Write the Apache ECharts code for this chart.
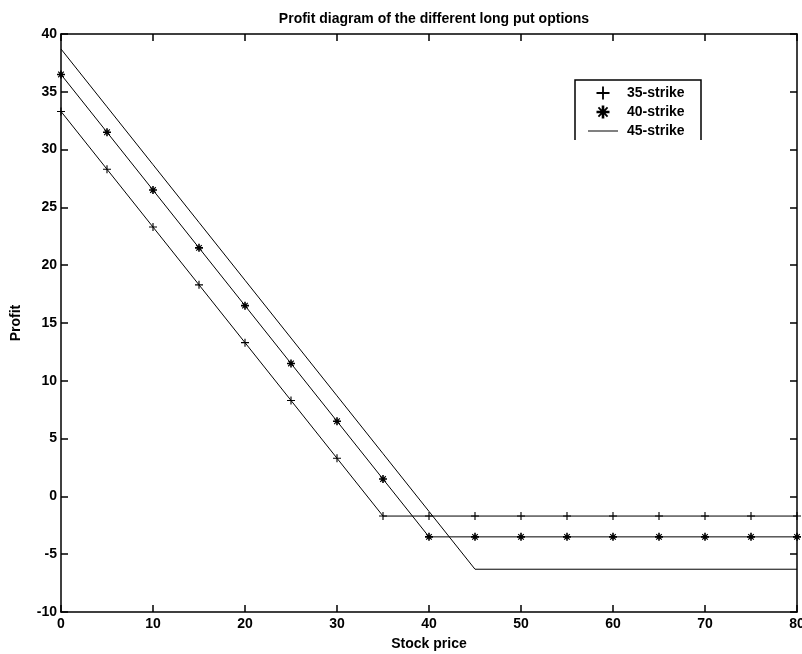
<!DOCTYPE html>
<html lang="en">
<head>
    <meta charset="UTF-8">
    <title>Profit diagram</title>
    <script src="https://cdn.jsdelivr.net/npm/echarts@6/dist/echarts.min.js"></script>
    <style>
        html, body { margin: 0; padding: 0; background: #fff; }
        #chart { width: 802px; height: 654px; }
    </style>
</head>
<body>
    <div id="chart"></div>
    <script>
        // data
        const stockPrice = [0, 5, 10, 15, 20, 25, 30, 35, 40, 45, 50, 55, 60, 65, 70, 75, 80];
        const strike35 = [33.3, 28.3, 23.3, 18.3, 13.3, 8.3, 3.3, -1.7, -1.7, -1.7, -1.7, -1.7, -1.7, -1.7, -1.7, -1.7, -1.7];
        const strike40 = [36.5, 31.5, 26.5, 21.5, 16.5, 11.5, 6.5, 1.5, -3.5, -3.5, -3.5, -3.5, -3.5, -3.5, -3.5, -3.5, -3.5];
        const strike45 = [38.7, 33.7, 28.7, 23.7, 18.7, 13.7, 8.7, 3.7, -1.3, -6.3, -6.3, -6.3, -6.3, -6.3, -6.3, -6.3, -6.3];
        const seriesNames = ['35-strike', '40-strike', '45-strike'];

        const font = 'Liberation Sans, Arial, sans-serif';
        const plusPath = 'path://M4.3,0h1.4v4.3h4.3v1.4h-4.3v4.3h-1.4v-4.3h-4.3v-1.4h4.3z';
        const starPath = 'path://M4,0h2v3l2,-2l1,1l-2,2h3v2h-3l2,2l-1,1l-2,-2v3h-2v-3l-2,2l-1,-1l2,-2h-3v-2h3l-2,-2l1,-1l2,2z';

        function pairs(ys) {
            return stockPrice.map((x, i) => [x, ys[i]]);
        }

        let chart = echarts.init(document.getElementById('chart'), null, { renderer: 'canvas' });

        let axisCommon = {
            type: 'value',
            axisLine: { show: true, onZero: false, lineStyle: { color: '#000', width: 1.5 } },
            axisTick: { show: true, inside: true, length: 7, lineStyle: { color: '#000', width: 1.5 } },
            splitLine: { show: false },
            axisLabel: { color: '#000', fontFamily: font, fontSize: 14, fontWeight: 'bold' }
        };
        let nameStyle = { color: '#000', fontFamily: font, fontSize: 14, fontWeight: 'bold' };

        let option = {
            backgroundColor: '#fff',
            animation: false,
            title: {
                text: 'Profit diagram of the different long put options',
                left: 429,
                textAlign: 'center',
                top: 7,
                textStyle: { color: '#000', fontFamily: font, fontSize: 14, fontWeight: 'bold' }
            },
            grid: { left: 61, right: 5, top: 34, bottom: 42, outerBoundsMode: 'none' },
            legend: {
                left: 583,
                top: 81,
                orient: 'vertical',
                itemGap: 5,
                itemWidth: 30,
                itemHeight: 13,
                textStyle: { color: '#000', fontFamily: font, fontSize: 14, fontWeight: 'bold', padding: [0, 0, 0, 4] },
                data: [
                    { name: seriesNames[0], icon: plusPath },
                    { name: seriesNames[1], icon: starPath },
                    { name: seriesNames[2], icon: 'path://M0,5h30v1h-30z' }
                ]
            },
            graphic: [{
                type: 'polyline',
                shape: { points: [[575, 140], [575, 80], [701, 80], [701, 140]] },
                style: { stroke: '#000', lineWidth: 1.5, fill: null }
            }],
            xAxis: [
                Object.assign({}, axisCommon, {
                    min: 0, max: 80, interval: 10,
                    axisLabel: Object.assign({}, axisCommon.axisLabel, { margin: 5 }),
                    name: 'Stock price',
                    nameLocation: 'middle',
                    nameGap: 25,
                    nameTextStyle: nameStyle
                }),
                Object.assign({}, axisCommon, {
                    position: 'top', min: 0, max: 80, interval: 10,
                    axisLabel: { show: false }
                })
            ],
            yAxis: [
                Object.assign({}, axisCommon, {
                    min: -10, max: 40, interval: 5,
                    axisLabel: Object.assign({}, axisCommon.axisLabel, { margin: 4 }),
                    name: 'Profit',
                    nameLocation: 'middle',
                    nameGap: 38,
                    nameTextStyle: nameStyle
                }),
                Object.assign({}, axisCommon, {
                    position: 'right', min: -10, max: 40, interval: 5,
                    axisLabel: { show: false }
                })
            ],
            series: [
                {
                    name: seriesNames[0],
                    type: 'line',
                    data: pairs(strike35),
                    symbol: plusPath,
                    symbolSize: 8,
                    showAllSymbol: true,
                    itemStyle: { color: '#000' },
                    lineStyle: { color: '#000', width: 1 },
                    z: 3
                },
                {
                    name: seriesNames[1],
                    type: 'line',
                    data: pairs(strike40),
                    symbol: starPath,
                    symbolSize: 8,
                    showAllSymbol: true,
                    itemStyle: { color: '#000' },
                    lineStyle: { color: '#000', width: 1 },
                    z: 3
                },
                {
                    name: seriesNames[2],
                    type: 'line',
                    data: pairs(strike45),
                    symbol: 'none',
                    itemStyle: { color: '#000' },
                    lineStyle: { color: '#000', width: 1 },
                    z: 3
                }
            ]
        };
        chart.setOption(option);
    </script>
</body>
</html>
